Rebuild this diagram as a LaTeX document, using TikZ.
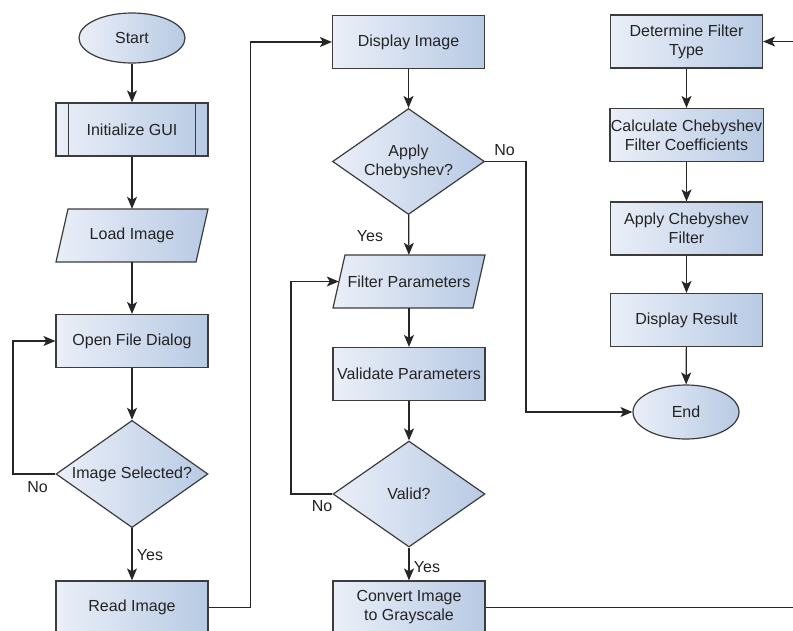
\documentclass[tikz,border=0pt]{standalone}
\usepackage{fontspec}
\setmainfont{Liberation Sans}
\usetikzlibrary{shapes.geometric,arrows.meta}
\definecolor{fillL}{RGB}{234,239,248}
\definecolor{fillR}{RGB}{184,202,228}
\definecolor{edgec}{RGB}{60,60,60}
\definecolor{txtc}{RGB}{35,35,35}
\tikzset{
  txt/.style={text=txtc, font=\fontsize{16}{19}\selectfont, align=center},
  box/.style={txt, draw=edgec, line width=1.2pt, left color=fillL, right color=fillR},
  proc/.style={box, rectangle, minimum width=152pt, minimum height=53pt, inner sep=1pt},
  term/.style={box, ellipse, minimum width=106pt, minimum height=50pt, inner sep=0pt},
  dec/.style={box, diamond, minimum width=152pt, minimum height=106pt, inner sep=0pt, aspect=1.3},
  io/.style={txt, rectangle, minimum width=140pt, minimum height=53pt, inner sep=0pt},
  ioshape/.style={draw=edgec, line width=1.2pt, left color=fillL, right color=fillR},
  arr/.style={-{Stealth[length=12pt,width=10pt,inset=3pt]}, line width=1.2pt, draw=black!85},
  lbl/.style={txt, inner sep=0pt}
}
\begin{document}
\begin{tikzpicture}[x=1pt,y=-1pt]
\useasboundingbox (0,0) rectangle (793,630);
\clip (0,0) rectangle (793,630);
\fill[white] (0,0) rectangle (793,630);

% left column
\node[term] (start) at (132,38) {Start};
\node[proc] (init) at (132,129.5) {Initialize GUI};
\draw[edgec, line width=1.2pt] ([xshift=13pt]init.north west) -- ([xshift=13pt]init.south west);
\draw[edgec, line width=1.2pt] ([xshift=-13pt]init.north east) -- ([xshift=-13pt]init.south east);
\shadedraw[ioshape] (68,209) -- (208,209) -- (196,262) -- (56,262) -- cycle;
\node[io] (load) at (132,235.5) {Load Image};
\node[proc] (open) at (132,341) {Open File Dialog};
\node[dec] (sel) at (132,474) {Image Selected?};
\node[proc] (read) at (132,607.5) {Read Image};

% middle column
\node[proc] (disp) at (408.5,42) {Display Image};
\node[dec] (apply) at (408.5,161.5) {Apply\\Chebyshev?};
\shadedraw[ioshape] (345,255) -- (485,255) -- (473,308) -- (333,308) -- cycle;
\node[io] (fp) at (409,281.5) {Filter Parameters};
\node[proc] (valp) at (409,374) {Validate Parameters};
\node[dec] (valid) at (409,494) {Valid?};
\node[proc] (conv) at (409,607.5) {Convert Image\\to Grayscale};

% right column
\node[proc] (det) at (686.5,41.5) {Determine Filter\\Type};
\node[proc] (calc) at (686.5,135) {Calculate Chebyshev\\Filter Coefficients};
\node[proc] (applyf) at (686.5,228.5) {Apply Chebyshev\\Filter};
\node[proc] (dres) at (686.5,320) {Display Result};
\node[term, minimum height=54pt] (endn) at (686,412) {End};

% helper coordinates
\coordinate (lp1) at (13,0);
\coordinate (lp2) at (291,0);
\coordinate (lp3) at (250.7,0);
\coordinate (lp4) at (526,0);
\coordinate (lp5) at (830,0);

% connectors
\draw[arr] (start) -- (init);
\draw[arr] (init) -- (load);
\draw[arr] (load) -- (open);
\draw[arr] (open) -- (sel);
\draw[arr] (sel) -- (read);
\draw[arr] (sel.west) -- (sel.west -| lp1) |- (open.west);
\draw[arr] (read.east) -- (read.east -| lp3) |- (disp.west);
\draw[arr] (disp) -- (apply);
\draw[arr] (apply) -- (fp);
\draw[arr] (apply.east) -- (apply.east -| lp4) |- (endn.west);
\draw[arr] (fp) -- (valp);
\draw[arr] (valp) -- (valid);
\draw[arr] (valid) -- (conv);
\draw[arr] (valid.west) -- (valid.west -| lp2) |- (fp.west);
\draw[arr] (conv.east) -- (conv.east -| lp5) -- (det.east -| lp5) -- (det.east);
\draw[arr] (det) -- (calc);
\draw[arr] (calc) -- (applyf);
\draw[arr] (applyf) -- (dres);
\draw[arr] (dres) -- (endn);

% labels
\node[lbl] (no1) at (37.5,487) {No};
\node[lbl] (yes1) at (150,555) {Yes};
\node[lbl] (no2) at (504.5,150) {No};
\node[lbl] (yes2) at (370,236) {Yes};
\node[lbl] (no3) at (322,506) {No};
\node[lbl] (yes3) at (427,567) {Yes};
\end{tikzpicture}
\end{document}
